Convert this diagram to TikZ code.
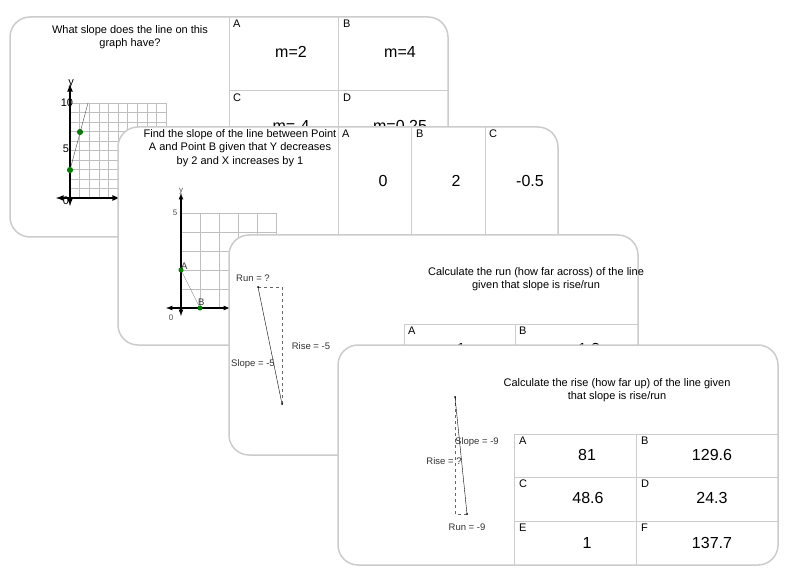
\documentclass[tikz,border=0pt]{standalone}
\usepackage{fontspec}
\setmainfont{Liberation Sans}
\tikzset{
  card/.style={draw=black!20, line width=1.5pt, fill=white, rounded corners=20pt},
  cell/.style={draw=black!20, line width=0.8pt},
  grid/.style={draw=black!25, line width=0.5pt},
  axis/.style={line width=1.6pt, <->, >=latex},
  dot/.style={circle, fill=green!50!black, inner sep=2.2pt},
  small/.style={font=\fontsize{11}{13.5}\selectfont},
  label/.style={font=\fontsize{9.5}{11}\selectfont, text=black!80},
  tiny/.style={font=\fontsize{8}{9}\selectfont, text=black!70},
  value/.style={font=\fontsize{16}{17}\selectfont},
  letter/.style={font=\fontsize{11}{12}\selectfont, anchor=north west, inner sep=1pt}
}
\begin{document}
\begin{tikzpicture}[x=1pt, y=-1pt]
\useasboundingbox (0,0) rectangle (800,585);
% card one
\draw[card] (10,17) rectangle (448,237);
\draw[cell] (229,17) -- (229,237) (338,17) -- (338,237) (229,90) -- (448,90);
\node[letter] (a1) at (232,19) {A};
\node[letter] (b1) at (342,19) {B};
\node[letter] (c1) at (232,93) {C};
\node[letter] (d1) at (342,93) {D};
\node[value] (va1) at (291,52) {m=2};
\node[value] (vb1) at (400,52) {m=4};
\node[value] (vc1) at (291,126) {m=-4};
\node[value] (vd1) at (400,126) {m=0.25};
\node[small, align=center] (q1) at (130,37) {What slope does the line on this\\graph have?};
\foreach \i in {0,...,10} {
  \draw[grid] (70+9.6*\i,103) -- (70+9.6*\i,198);
  \draw[grid] (70,103+9.5*\i) -- (166,103+9.5*\i);
}
\draw[axis] (70,84) -- (70,206);
\draw[axis] (56,198) -- (120,198);
\node[small] (y1) at (71,84) {y};
\node[small] (t1) at (67,103) {10};
\node[small] (f1) at (66,149) {5};
\node[small] (z1) at (66,201) {0};
\node[dot] (p1) at (70,170) {};
\node[dot] (p2) at (80,132) {};
\draw[black!70] (p1) -- (88,103);
% card two
\draw[card] (118,127) rectangle (558,345);
\draw[cell] (338,127) -- (338,345) (411,127) -- (411,345) (485,127) -- (485,345);
\node[letter] (a2) at (341,129) {A};
\node[letter] (b2) at (415,129) {B};
\node[letter] (c2) at (488,129) {C};
\node[value] (va2) at (383,181) {0};
\node[value] (vb2) at (456,181) {2};
\node[value] (vc2) at (530,181) {-0.5};
\node[small, align=center, inner sep=0pt] (q2) at (240,148) {Find the slope of the line between Point\\A and Point B given that Y decreases\\by 2 and X increases by 1};
\foreach \i in {0,...,5} {
  \draw[grid] (181+19*\i,213) -- (181+19*\i,308);
  \draw[grid] (181,213+19*\i) -- (276,213+19*\i);
}
\draw[axis, line width=1.2pt] (181,193) -- (181,316);
\draw[axis, line width=1.2pt] (166,308) -- (230,308);
\node[tiny] (y2) at (181,191) {y};
\node[tiny] (f2) at (175,213) {5};
\node[tiny] (z2) at (171,318) {0};
\node[dot, inner sep=1.8pt] (pa) at (181,270) {};
\node[dot, inner sep=1.8pt] (pb) at (200,308) {};
\draw[black!50] (pa) -- (pb);
\node[label, anchor=south west, inner sep=1pt] (la) at (180,271) {A};
\node[label, anchor=south west, inner sep=1pt] (lb) at (197,307) {B};
% card three
\draw[card] (229,235) rectangle (638,455);
\draw[cell] (404,324) -- (638,324) (404,324) -- (404,455) (515,324) -- (515,455);
\node[letter] (a3) at (407,326) {A};
\node[letter] (b3) at (518,326) {B};
\node[value] (va3) at (461,349) {1};
\node[value] (vb3) at (589,349) {1.2};
\node[small, align=center] (q3) at (536,279) {Calculate the run (how far across) of the line\\given that slope is rise/run};
\coordinate (r1) at (258,287);
\coordinate (r2) at (282,287);
\coordinate (r3) at (282,404);
\draw[dashed, black!60] (r1) -- (r2) -- (r3);
\draw (r1) -- (r3);
\fill (r1) circle (1pt) (r3) circle (1pt);
\node[label] (run3) at (253,278) {Run = ?};
\node[label] (rise3) at (311,346) {Rise = -5};
\node[label] (sl3) at (253,364) {Slope = -5};
% card four
\draw[card] (338,345) rectangle (778,565);
\draw[cell] (514,434) -- (778,434) (514,477) -- (778,477) (514,521) -- (778,521)
  (514,434) -- (514,565) (636,434) -- (636,565);
\node[letter] (a4) at (518,436) {A};
\node[letter] (b4) at (640,436) {B};
\node[letter] (c4) at (518,479) {C};
\node[letter] (d4) at (640,479) {D};
\node[letter] (e4) at (518,523) {E};
\node[letter] (f4) at (640,523) {F};
\node[value] (va4) at (587,455) {81};
\node[value] (vb4) at (712,455) {129.6};
\node[value] (vc4) at (588,498) {48.6};
\node[value] (vd4) at (712,498) {24.3};
\node[value] (ve4) at (587,543) {1};
\node[value] (vf4) at (712,543) {137.7};
\node[small, align=center] (q4) at (617,390) {Calculate the rise (how far up) of the line given\\that slope is rise/run};
\coordinate (s1) at (455,397);
\coordinate (s2) at (455,514);
\coordinate (s3) at (467,514);
\draw[dashed, black!60] (s1) -- (s2) -- (s3);
\draw (s1) -- (s3);
\fill (s1) circle (1pt) (s3) circle (1pt);
\node[label] (sl4) at (477,442) {Slope = -9};
\node[label] (rise4) at (444,461) {Rise = ?};
\node[label] (run4) at (467,527) {Run = -9};
\end{tikzpicture}
\end{document}
